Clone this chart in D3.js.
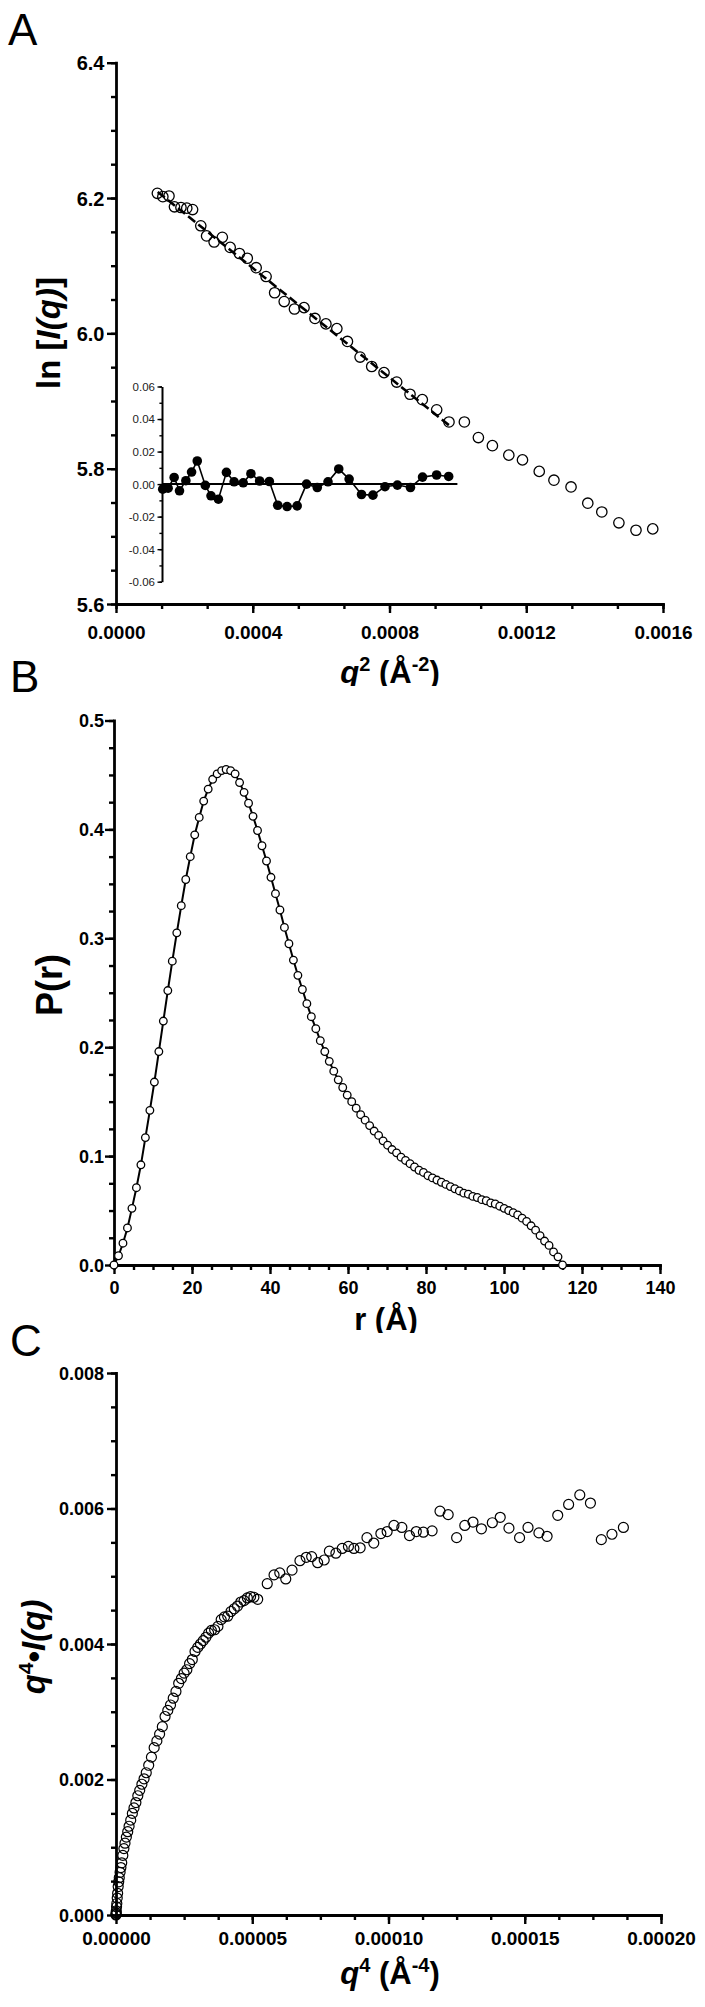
<!DOCTYPE html>
<html>
<head>
<meta charset="utf-8">
<script src="https://cdn.jsdelivr.net/npm/d3@7"></script>
<style>
  body { margin: 0; background: #fff; }
  svg { display: block; background: #fff; }
  svg text { font-family: "Liberation Sans", Arial, sans-serif; }
</style>
</head>
<body>
<svg width="705" height="2007"></svg>
<script>
// ---- panel A : Guinier plot ----
const aQ2 = [0.000121, 0.000137, 0.000155, 0.000171, 0.000190, 0.000207, 0.000224, 0.000248, 0.000265, 0.000287,
  0.000311, 0.000334, 0.000361, 0.000384, 0.000410, 0.000439, 0.000464, 0.000492, 0.000522, 0.000550,
  0.000582, 0.000614, 0.000646, 0.000677, 0.000714, 0.000748, 0.000784, 0.000821, 0.000860, 0.000896,
  0.000938, 0.000974, 0.001019, 0.001060, 0.001101, 0.001149, 0.001189, 0.001238, 0.001281, 0.001331,
  0.001380, 0.001421, 0.001471, 0.001521, 0.001570];
const aLnI = [6.207, 6.202, 6.203, 6.187, 6.186, 6.185, 6.183, 6.159, 6.144, 6.135,
  6.142, 6.127, 6.118, 6.111, 6.097, 6.084, 6.060, 6.047, 6.036, 6.038,
  6.022, 6.014, 6.007, 5.988, 5.965, 5.951, 5.942, 5.928, 5.910, 5.902,
  5.887, 5.869, 5.869, 5.846, 5.834, 5.820, 5.813, 5.796, 5.783, 5.773,
  5.749, 5.736, 5.720, 5.709, 5.711];
const aFitQ2 = [0.000122, 0.000977];
const aFitLnI = [6.209, 5.863];
// residuals of the fitted points (first 32)
const aResid = [-0.0031, -0.0025, 0.0041, -0.0041, 0.0021, 0.0074, 0.0142, -0.0008, -0.0072, -0.0093,
  0.0072, 0.0014, 0.0008, 0.0064, 0.0019, 0.0016, -0.0130, -0.0138, -0.0134, 0.0000,
  -0.0021, 0.0014, 0.0093, 0.0031, -0.0064, -0.0068, -0.0016, -0.0006, -0.0021, 0.0043,
  0.0056, 0.0047];
const aXTicks = [0, 0.0004, 0.0008, 0.0012, 0.0016];
const aYTicks = [5.6, 5.8, 6.0, 6.2, 6.4];
const insetTicks = [-0.06, -0.04, -0.02, 0, 0.02, 0.04, 0.06];

// ---- panel B : P(r) ----
const bR = [0, 1.15, 2.3, 3.45, 4.6, 5.75, 6.9, 8.05, 9.2, 10.35, 11.5, 12.65, 13.8, 14.95, 16.1, 17.25, 18.4, 19.55,
  20.7, 21.85, 23, 24.15, 25.3, 26.45, 27.6, 28.75, 29.9, 31.05, 32.2, 33.35, 34.5, 35.65, 36.8, 37.95, 39.1,
  40.25, 41.4, 42.55, 43.7, 44.85, 46, 47.15, 48.3, 49.45, 50.6, 51.75, 52.9, 54.05, 55.2, 56.35, 57.5, 58.65,
  59.8, 60.95, 62.1, 63.25, 64.4, 65.55, 66.7, 67.85, 69, 70.15, 71.3, 72.45, 73.6, 74.75, 75.9, 77.05, 78.2,
  79.35, 80.5, 81.65, 82.8, 83.95, 85.1, 86.25, 87.4, 88.55, 89.7, 90.85, 92, 93.15, 94.3, 95.45, 96.6, 97.75,
  98.9, 100.05, 101.2, 102.35, 103.5, 104.65, 105.8, 106.95, 108.1, 109.25, 110.4, 111.55, 112.7, 113.85, 115];
const bP = [0, 0.0085, 0.020, 0.034, 0.052, 0.071, 0.092, 0.117, 0.142, 0.168,
  0.196, 0.224, 0.252, 0.279, 0.305, 0.330, 0.354, 0.375, 0.395, 0.411,
  0.426, 0.437, 0.446, 0.451, 0.454, 0.455, 0.454, 0.451, 0.443, 0.434,
  0.424, 0.412, 0.399, 0.385, 0.371, 0.356, 0.341, 0.326, 0.310, 0.295,
  0.280, 0.266, 0.253, 0.240, 0.228, 0.217, 0.206, 0.196, 0.187, 0.178,
  0.170, 0.163, 0.156, 0.150, 0.144, 0.138, 0.133, 0.128, 0.123, 0.119,
  0.114, 0.110, 0.106, 0.103, 0.099, 0.096, 0.093, 0.090, 0.087, 0.085,
  0.082, 0.080, 0.078, 0.076, 0.074, 0.072, 0.070, 0.068, 0.066, 0.065,
  0.063, 0.062, 0.060, 0.059, 0.057, 0.056, 0.054, 0.052, 0.050, 0.048,
  0.046, 0.043, 0.040, 0.036, 0.032, 0.027, 0.022, 0.018, 0.012, 0.0075, 0];
const bXTicks = [0, 20, 40, 60, 80, 100, 120, 140];
const bYTicks = [0, 0.1, 0.2, 0.3, 0.4, 0.5];

// ---- panel C : Porod plot (q4 in 1e-5 A^-4, q4*I in 1e-3) ----
const cQ4 = [0, 0.002, 0.005, 0.01, 0.02, 0.03, 0.045, 0.06, 0.08, 0.10, 0.12, 0.15, 0.18, 0.21, 0.25, 0.29,
  0.33, 0.38, 0.43, 0.48, 0.54, 0.60, 0.66, 0.73, 0.80, 0.87, 0.95, 1.03, 1.11, 1.20, 1.30, 1.40, 1.50,
  1.60, 1.70, 1.80, 1.90, 2.00, 2.10, 2.20, 2.30, 2.40, 2.50, 2.60, 2.70, 2.80, 2.90, 3.00, 3.10, 3.20,
  3.30, 3.40, 3.50, 3.62, 3.74, 3.86, 3.98, 4.10, 4.22, 4.34, 4.46, 4.58, 4.70, 4.82, 4.94, 5.06, 5.20,
  5.55, 5.80, 6.01, 6.23, 6.46, 6.75, 6.98, 7.18, 7.40, 7.64, 7.83, 8.07, 8.30, 8.53, 8.73, 8.96, 9.21,
  9.46, 9.72, 9.95, 10.20, 10.49, 10.77, 11.02, 11.28, 11.60, 11.89, 12.19, 12.50, 12.80, 13.10, 13.41,
  13.81, 14.10, 14.42, 14.81, 15.12, 15.52, 15.82, 16.21, 16.61, 17.02, 17.41, 17.81, 18.20, 18.62];
const cPorod = [0, 0.012, 0.03, 0.06, 0.12, 0.17, 0.25, 0.32, 0.42, 0.49, 0.55, 0.63, 0.70, 0.77, 0.88, 0.98,
  1.06, 1.15, 1.23, 1.31, 1.40, 1.50, 1.58, 1.66, 1.76, 1.84, 1.93, 2.01, 2.10, 2.21, 2.33, 2.47, 2.57,
  2.67, 2.78, 2.93, 3.02, 3.10, 3.20, 3.30, 3.42, 3.49, 3.57, 3.62, 3.71, 3.77, 3.89, 3.95, 4.00, 4.05,
  4.10, 4.16, 4.20, 4.21, 4.26, 4.36, 4.40, 4.41, 4.48, 4.52, 4.56, 4.62, 4.64, 4.68, 4.70, 4.69, 4.66,
  4.89, 5.02, 5.05, 4.96, 5.09, 5.23, 5.28, 5.29, 5.20, 5.24, 5.37, 5.34, 5.41, 5.44, 5.41, 5.42, 5.57,
  5.49, 5.63, 5.66, 5.75, 5.72, 5.60, 5.66, 5.65, 5.67, 5.96, 5.91, 5.57, 5.75, 5.80, 5.70,
  5.79, 5.87, 5.71, 5.57, 5.72, 5.64, 5.59, 5.90, 6.06, 6.20, 6.08, 5.54, 5.62, 5.72];
const cXTicks = [0, 5, 10, 15, 20];
const cYTicks = [0, 2, 4, 6, 8];

const svg = d3.select("svg");

function addAxes(o) {
  const g = svg.append("g");
  const yBase = o.y.range()[0];
  const xBase = o.x.range()[0];

  g.append("g").attr("transform", `translate(0,${yBase})`)
    .call(d3.axisBottom(o.x).tickValues(o.xMinor).tickSize(5).tickSizeOuter(0).tickFormat(""))
    .call(s => s.select(".domain").remove());
  const gx = g.append("g").attr("transform", `translate(0,${yBase})`)
    .call(d3.axisBottom(o.x).tickValues(o.xTicks).tickSize(9).tickSizeOuter(0).tickFormat(o.xFmt));
  gx.selectAll("text").attr("y", o.xLabelY).attr("dy", 0)
    .style("font-size", o.xFont + "px").style("font-weight", "bold").attr("fill", "#000");

  g.append("g").attr("transform", `translate(${xBase},0)`)
    .call(d3.axisLeft(o.y).tickValues(o.yMinor).tickSize(5).tickSizeOuter(0).tickFormat(""))
    .call(s => s.select(".domain").remove());
  const gy = g.append("g").attr("transform", `translate(${xBase},0)`)
    .call(d3.axisLeft(o.y).tickValues(o.yTicks).tickSize(9).tickSizeOuter(0).tickFormat(o.yFmt));
  gy.selectAll("text").attr("x", -o.yLabelX).attr("dy", "0.36em")
    .style("font-size", o.yFont + "px").style("font-weight", "bold").attr("fill", "#000");

  g.selectAll(".tick line").attr("stroke", "#000").attr("stroke-width", 2.4);
  g.selectAll(".domain").attr("stroke", "#000").attr("stroke-width", 2.8).attr("stroke-linecap", "square");
  return g;
}

function stepRange(a, b, step) {
  return d3.range(0, Math.round((b - a) / step) + 1).map(i => a + i * step);
}

function panelLetter(t, x, y) {
  svg.append("text").attr("x", x).attr("y", y).style("font-size", "44px").text(t);
}

// ================= A =================
const xA = d3.scaleLinear().domain([0, 0.0016]).range([116, 663]);
const yA = d3.scaleLinear().domain([5.6, 6.4]).range([604, 62.7]);

panelLetter("A", 8, 45);
addAxes({
  x: xA, y: yA,
  xTicks: aXTicks, xMinor: stepRange(0, 0.0016, 0.0004 / 3),
  yTicks: aYTicks, yMinor: stepRange(5.6, 6.4, 0.05),
  xFmt: d => d.toFixed(4), yFmt: d => d.toFixed(1),
  xFont: 19, yFont: 20, xLabelY: 35, yLabelX: 11.5
});

// fit line
svg.append("line")
  .attr("x1", xA(aFitQ2[0])).attr("y1", yA(aFitLnI[0]))
  .attr("x2", xA(aFitQ2[1])).attr("y2", yA(aFitLnI[1]))
  .attr("stroke", "#000").attr("stroke-width", 2.6).attr("stroke-dasharray", "9,4");

svg.append("g").selectAll("circle").data(aQ2).join("circle")
  .attr("cx", d => xA(d)).attr("cy", (d, i) => yA(aLnI[i])).attr("r", 5.2)
  .attr("fill", "none").attr("stroke", "#000").attr("stroke-width", 1.3);

// inset residual plot
const insetAxisX = 162;
const xIn = d3.scaleLinear().domain([0.0001, 0.001]).range([155.7, 457.4]);
const yIn = d3.scaleLinear().domain([-0.06, 0.06]).range([581.7, 386.5]);
const gIn = svg.append("g");
gIn.append("g").attr("transform", `translate(${insetAxisX},0)`)
  .call(d3.axisLeft(yIn).tickValues(stepRange(-0.06, 0.06, 0.01)).tickSize(2.6).tickSizeOuter(0).tickFormat(""))
  .call(s => s.select(".domain").remove());
const gInY = gIn.append("g").attr("transform", `translate(${insetAxisX},0)`)
  .call(d3.axisLeft(yIn).tickValues(insetTicks).tickSize(4.5).tickSizeOuter(0).tickFormat(d => d.toFixed(2)));
gInY.selectAll("text").attr("x", -7).attr("dy", "0.34em").style("font-size", "11.5px").attr("fill", "#222");
gIn.selectAll(".tick line").attr("stroke", "#000").attr("stroke-width", 1.4);
gIn.selectAll(".domain").attr("stroke", "#000").attr("stroke-width", 2);
gIn.append("line")
  .attr("x1", insetAxisX).attr("x2", xIn(0.001))
  .attr("y1", yIn(0)).attr("y2", yIn(0))
  .attr("stroke", "#000").attr("stroke-width", 2);
const residPts = aResid.map((r, i) => [aQ2[i], r]);
const xInFit = d3.scaleLinear().domain([aQ2[0], aQ2[aResid.length - 1]]).range([xIn(0.000121), xIn(0.000974)]);
gIn.append("path").datum(residPts)
  .attr("d", d3.line().x(d => xInFit(d[0])).y(d => yIn(d[1])))
  .attr("fill", "none").attr("stroke", "#000").attr("stroke-width", 1.6);
gIn.selectAll("circle").data(residPts).join("circle")
  .attr("cx", d => xInFit(d[0])).attr("cy", d => yIn(d[1])).attr("r", 4.8).attr("fill", "#000");

// axis titles A
const defs = svg.append("defs");
defs.append("clipPath").attr("id", "clipA").append("rect").attr("x", 200).attr("y", 640).attr("width", 400).attr("height", 46);
const tA = svg.append("text").attr("clip-path", "url(#clipA)")
  .attr("x", 390).attr("y", 683).attr("text-anchor", "middle")
  .style("font-size", "31px").style("font-weight", "bold");
tA.append("tspan").style("font-style", "italic").text("q");
tA.append("tspan").attr("dy", -12).style("font-size", "20px").text("2");
tA.append("tspan").attr("dy", 12).text(" (Å");
tA.append("tspan").attr("dy", -12).style("font-size", "20px").text("-2");
tA.append("tspan").attr("dy", 12).text(")");

const yTitleA = svg.append("text").attr("transform", "translate(60,333) rotate(-90)")
  .attr("text-anchor", "middle").style("font-size", "33px").style("font-weight", "bold");
yTitleA.append("tspan").text("ln [");
yTitleA.append("tspan").style("font-style", "italic").text("I(q)");
yTitleA.append("tspan").text("]");

// ================= B =================
const xB = d3.scaleLinear().domain([0, 140]).range([114, 660]);
const yB = d3.scaleLinear().domain([0, 0.5]).range([1265, 720.5]);

panelLetter("B", 10, 692);
addAxes({
  x: xB, y: yB,
  xTicks: bXTicks, xMinor: stepRange(0, 140, 5),
  yTicks: bYTicks, yMinor: stepRange(0, 0.5, 0.025),
  xFmt: d => d.toFixed(0), yFmt: d => d.toFixed(1),
  xFont: 18, yFont: 18, xLabelY: 29, yLabelX: 10
});

const prPts = bR.map((r, i) => [r, bP[i]]);
svg.append("path").datum(prPts)
  .attr("d", d3.line().x(d => xB(d[0])).y(d => yB(d[1])))
  .attr("fill", "none").attr("stroke", "#000").attr("stroke-width", 2);
svg.append("g").selectAll("circle").data(prPts).join("circle")
  .attr("cx", d => xB(d[0])).attr("cy", d => yB(d[1])).attr("r", 3.8)
  .attr("fill", "#fff").attr("stroke", "#000").attr("stroke-width", 1.3);

defs.append("clipPath").attr("id", "clipB").append("rect").attr("x", 200).attr("y", 1290).attr("width", 400).attr("height", 43);
const tB = svg.append("text").attr("clip-path", "url(#clipB)")
  .attr("x", 386).attr("y", 1330).attr("text-anchor", "middle")
  .style("font-size", "31px").style("font-weight", "bold").text("r (Å)");

svg.append("text").attr("transform", "translate(62,985) rotate(-90)")
  .attr("text-anchor", "middle").style("font-size", "36px").style("font-weight", "bold").text("P(r)");

// ================= C =================
const xC = d3.scaleLinear().domain([0, 20]).range([116, 661]);
const yC = d3.scaleLinear().domain([0, 8]).range([1915, 1373]);

panelLetter("C", 10, 1356);
addAxes({
  x: xC, y: yC,
  xTicks: cXTicks, xMinor: stepRange(0, 20, 1.25),
  yTicks: cYTicks, yMinor: stepRange(0, 8, 0.5),
  xFmt: d => (d * 1e-5).toFixed(5), yFmt: d => (d * 1e-3).toFixed(3),
  xFont: 19, yFont: 18, xLabelY: 30, yLabelX: 12
});

svg.append("g").selectAll("circle").data(cQ4).join("circle")
  .attr("cx", d => xC(d)).attr("cy", (d, i) => yC(cPorod[i])).attr("r", 5)
  .attr("fill", "none").attr("stroke", "#000").attr("stroke-width", 1.2);

const tC = svg.append("text").attr("x", 390).attr("y", 1984).attr("text-anchor", "middle")
  .style("font-size", "31px").style("font-weight", "bold");
tC.append("tspan").style("font-style", "italic").text("q");
tC.append("tspan").attr("dy", -12).style("font-size", "20px").text("4");
tC.append("tspan").attr("dy", 12).text(" (Å");
tC.append("tspan").attr("dy", -12).style("font-size", "20px").text("-4");
tC.append("tspan").attr("dy", 12).text(")");

const yTitleC = svg.append("text").attr("transform", "translate(45,1647) rotate(-90)")
  .attr("text-anchor", "middle").style("font-size", "33px").style("font-weight", "bold");
yTitleC.append("tspan").style("font-style", "italic").text("q");
yTitleC.append("tspan").attr("dy", -12).style("font-size", "21px").text("4");
yTitleC.append("tspan").attr("dy", 12).text("•");
yTitleC.append("tspan").style("font-style", "italic").text("I(q)");
</script>
</body>
</html>
